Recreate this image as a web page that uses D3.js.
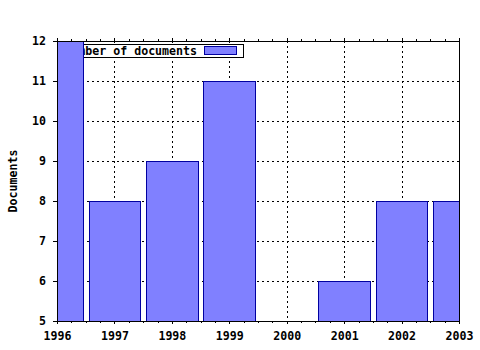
<!DOCTYPE html>
<meta charset="utf-8" />
<script src="https://d3js.org/d3.v7.min.js"></script>
<style>
  body { margin: 0; background: #fff; }
  text { font-family: "DejaVu Sans Mono", monospace; font-weight: bold; font-size: 11.6px; fill: #000; }
</style>
<body>
<div id="chart"></div>
<script>
// data
var years = [1996, 1997, 1998, 1999, 2000, 2001, 2002, 2003];
var docs = [12, 8, 9, 11, 5, 6, 8, 8];
var yTicks = [5, 6, 7, 8, 9, 10, 11, 12];
var seriesName = "Number of documents";

var W = 480, H = 350;
// plot box (note: "top" is a window global, so use other names)
var pL = 57, pR = 459, pT = 41, pB = 321;

var svg = d3.select("#chart").append("svg")
  .attr("width", W).attr("height", H);

var x = d3.scaleLinear().domain([1996, 2003]).range([pL, pR]);
var y = d3.scaleLinear().domain([5, 12]).range([pB, pT]);

// grid
var grid = svg.append("g").attr("stroke", "#000").attr("stroke-dasharray", "2,3")
  .attr("shape-rendering", "crispEdges");
grid.selectAll("line.gy").data(yTicks.slice(1, -1)).enter().append("line")
  .attr("x1", pL).attr("x2", pR)
  .attr("y1", function (d) { return Math.round(y(d)) + 0.5; })
  .attr("y2", function (d) { return Math.round(y(d)) + 0.5; });
grid.selectAll("line.gx").data(years.slice(1, -1)).enter().append("line")
  .attr("y1", pT).attr("y2", pB)
  .attr("x1", function (d) { return Math.round(x(d)) + 0.5; })
  .attr("x2", function (d) { return Math.round(x(d)) + 0.5; });

// legend (bars are drawn over it)
var lg = svg.append("g").attr("shape-rendering", "crispEdges");
lg.append("rect").attr("x", 59.5).attr("y", 44.5).attr("width", 184).attr("height", 13)
  .attr("fill", "#fff").attr("stroke", "#000");
lg.append("text").attr("x", 197).attr("y", 55).attr("text-anchor", "end").text(seriesName);
lg.append("rect").attr("x", 204.5).attr("y", 46.5).attr("width", 32).attr("height", 8)
  .attr("fill", "#8080ff").attr("stroke", "#0000a0");

// bars
svg.append("clipPath").attr("id", "plot").append("rect")
  .attr("x", pL).attr("y", pT).attr("width", pR - pL).attr("height", pB - pT);
var data = years.map(function (d, i) { return { year: d, n: docs[i] }; });
svg.append("g").attr("clip-path", "url(#plot)").attr("shape-rendering", "crispEdges")
  .selectAll("rect").data(data.filter(function (d) { return d.n > 5; })).enter().append("rect")
  .attr("x", function (d) { return Math.round(x(d.year - 0.45)) + 0.5; })
  .attr("width", function (d) { return Math.round(x(d.year + 0.45)) - Math.round(x(d.year - 0.45)); })
  .attr("y", function (d) { return Math.round(y(d.n)) + 0.5; })
  .attr("height", function (d) { return pB - Math.round(y(d.n)); })
  .attr("fill", "#8080ff").attr("stroke", "#0000a0");

// border
svg.append("rect").attr("x", pL + 0.5).attr("y", pT + 0.5)
  .attr("width", pR - pL).attr("height", pB - pT)
  .attr("fill", "none").attr("stroke", "#000").attr("shape-rendering", "crispEdges");

// axes
var xAxis = d3.axisBottom(x).tickValues(years).tickFormat(d3.format("d"))
  .tickSizeInner(3).tickSizeOuter(0).tickPadding(8);
var gx = svg.append("g").attr("transform", "translate(0," + pB + ")").call(xAxis);
var gxTop = svg.append("g").attr("transform", "translate(0," + pT + ")")
  .call(d3.axisTop(x).tickValues(years).tickFormat("").tickSizeInner(3).tickSizeOuter(0));
var minor = d3.range(1996, 2003.01, 0.25).filter(function (d) { return d % 1 !== 0; });
[gx, gxTop].forEach(function (g, k) {
  g.selectAll("line.minor").data(minor).enter().append("line")
    .attr("x1", function (d) { return Math.round(x(d)) + 0.5; })
    .attr("x2", function (d) { return Math.round(x(d)) + 0.5; })
    .attr("y1", 0).attr("y2", k === 0 ? 2 : -2).attr("stroke", "#000");
});
var gy = svg.append("g").attr("transform", "translate(" + pL + ",0)")
  .call(d3.axisLeft(y).tickValues(yTicks).tickFormat(d3.format("d"))
    .tickSizeInner(4).tickSizeOuter(0).tickPadding(7));
svg.selectAll(".domain").remove();
svg.selectAll(".tick text").style("font-family", "DejaVu Sans Mono").style("font-size", "11.6px")
  .style("font-weight", "bold");
svg.selectAll("g line").attr("shape-rendering", "crispEdges");

// y label
svg.append("text").attr("transform", "translate(17,181) rotate(-90)")
  .attr("text-anchor", "middle").text("Documents");
</script>
</body>
